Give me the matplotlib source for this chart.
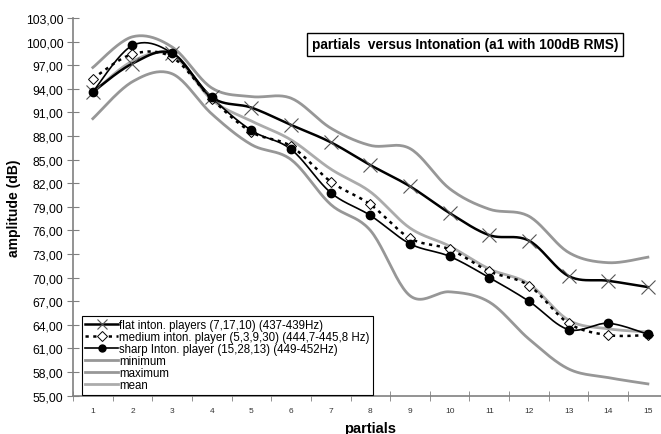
import numpy as np
import matplotlib
matplotlib.use("Agg")
import matplotlib.pyplot as plt
from matplotlib.lines import Line2D
from matplotlib.ticker import FixedLocator, FuncFormatter

plt.rcParams['font.family'] = ['Liberation Sans', 'DejaVu Sans']

partials = list(range(1, 16))

flat = [93.6, 97.2, 98.5, 92.9, 91.6, 89.4, 87.2, 84.3, 81.6, 78.2, 75.4, 74.7, 70.2, 69.6, 68.8]
medium = [95.3, 98.4, 98.0, 92.7, 88.5, 86.7, 82.2, 79.3, 75.0, 73.6, 70.8, 69.0, 64.2, 62.7, 62.7]
sharp = [93.6, 99.5, 98.5, 92.9, 88.7, 86.3, 80.8, 77.9, 74.3, 72.7, 70.0, 67.0, 63.4, 64.2, 62.8]
minimum = [90.2, 94.9, 95.9, 90.8, 86.9, 85.0, 79.3, 76.0, 67.7, 68.2, 66.9, 62.2, 58.4, 57.3, 56.5]
maximum = [96.7, 100.6, 99.3, 94.1, 93.0, 92.8, 89.0, 86.8, 86.4, 81.3, 78.7, 77.8, 73.2, 71.9, 72.6]
mean = [93.5, 97.5, 98.3, 92.6, 89.9, 87.5, 83.8, 80.9, 76.3, 74.0, 71.1, 69.2, 64.6, 63.5, 63.1]

labels = ["flat inton. players (7,17,10) (437-439Hz)",
          "medium inton. player (5,3,9,30) (444,7-445,8 Hz)",
          "sharp Inton. player (15,28,13) (449-452Hz)",
          "minimum", "maximum", "mean"]


def smooth(xs, ys, n=24):
    # excel-like smoothed line (bezier through the points)
    p = np.column_stack([xs, ys]).astype(float)
    pts = []
    for i in range(len(p) - 1):
        p0 = p[i - 1] if i > 0 else p[i]
        p3 = p[i + 2] if i + 2 < len(p) else p[i + 1]
        c1 = p[i] + (p[i + 1] - p0) / 6
        c2 = p[i + 1] - (p3 - p[i]) / 6
        t = np.linspace(0, 1, n)[:, None]
        seg = ((1 - t) ** 3) * p[i] + 3 * ((1 - t) ** 2) * t * c1 + 3 * (1 - t) * t ** 2 * c2 + t ** 3 * p[i + 1]
        pts.append(seg if i == 0 else seg[1:])
    s = np.vstack(pts)
    return s[:, 0], s[:, 1]


fig = plt.figure(figsize=(6.61, 4.35), dpi=100)
ax = fig.add_axes([73 / 661, 1 - 396.7 / 435, 594.7 / 661, 377.8 / 435])

gmin, gmax, gmean = '#979797', '#979797', '#ababab'
for vals, c in [(minimum, gmin), (maximum, gmax), (mean, gmean)]:
    ax.plot(*smooth(partials, vals), color=c, lw=2.0, zorder=2)

ax.plot(*smooth(partials, flat), color='black', lw=1.8, zorder=3)
ax.plot(partials, flat, ls='none', marker='x', ms=10, mew=0.8, color='#555555', zorder=4)

ax.plot(*smooth(partials, medium), color='black', lw=1.8, ls=(0, (1.3, 1.8)), zorder=3)
ax.plot(partials, medium, ls='none', marker='D', ms=5.5, mew=0.7, mfc='white', mec='black', zorder=4)

ax.plot(*smooth(partials, sharp), color='black', lw=1.2, zorder=3)
ax.plot(partials, sharp, ls='none', marker='o', ms=6, color='black', zorder=5)

ax.set_xlim(0.5, 15.5)
ax.set_ylim(55, 103)
ax.set_yticks(np.arange(55, 104, 3))
ax.yaxis.set_major_formatter(FuncFormatter(lambda v, p: f"{v:.2f}".replace('.', ',')))
ax.set_xticks(partials)
ax.xaxis.set_minor_locator(FixedLocator(np.arange(0.5, 16, 1)))
ax.tick_params(axis='x', which='major', length=0, labelsize=6, labelcolor='#333333', pad=8)
ax.tick_params(axis='x', which='minor', length=7, direction='inout', color='#808080')
ax.tick_params(axis='y', length=8, direction='inout', color='#808080', labelsize=8.8, pad=3)
for s in ['top', 'right']:
    ax.spines[s].set_visible(False)
for s in ['left', 'bottom']:
    ax.spines[s].set_color('#808080')
    ax.spines[s].set_linewidth(1.2)

ax.set_xlabel('partials', fontsize=10.5, fontweight='bold', labelpad=5)
ax.set_ylabel('amplitude (dB)', fontsize=10, fontweight='bold', labelpad=3)

handles = [
    Line2D([], [], color='black', lw=1.8, marker='x', ms=7, mew=0.8, mec='#555555'),
    Line2D([], [], color='black', lw=1.8, ls=(0, (1.3, 1.8)), marker='D', ms=5, mew=0.7, mfc='white', mec='black'),
    Line2D([], [], color='black', lw=1.2, marker='o', ms=5),
    Line2D([], [], color=gmin, lw=2),
    Line2D([], [], color=gmax, lw=2),
    Line2D([], [], color=gmean, lw=2),
]
leg = ax.legend(handles, labels, loc='upper left', bbox_to_anchor=(0.015, 0.212),
                fontsize=8.3, frameon=True, fancybox=False, framealpha=1,
                edgecolor='black', handlelength=2.8, handletextpad=0.1,
                labelspacing=0.0, borderpad=0.3, borderaxespad=0)
leg.get_frame().set_linewidth(0.8)

fig.text(465 / 661, 1 - 45.5 / 435, 'partials  versus Intonation (a1 with 100dB RMS)',
         ha='center', va='center', fontsize=9.8, fontweight='bold',
         bbox=dict(boxstyle='square,pad=0.35', fc='white', ec='black', lw=1))

fig.savefig('out.png', dpi=100)
